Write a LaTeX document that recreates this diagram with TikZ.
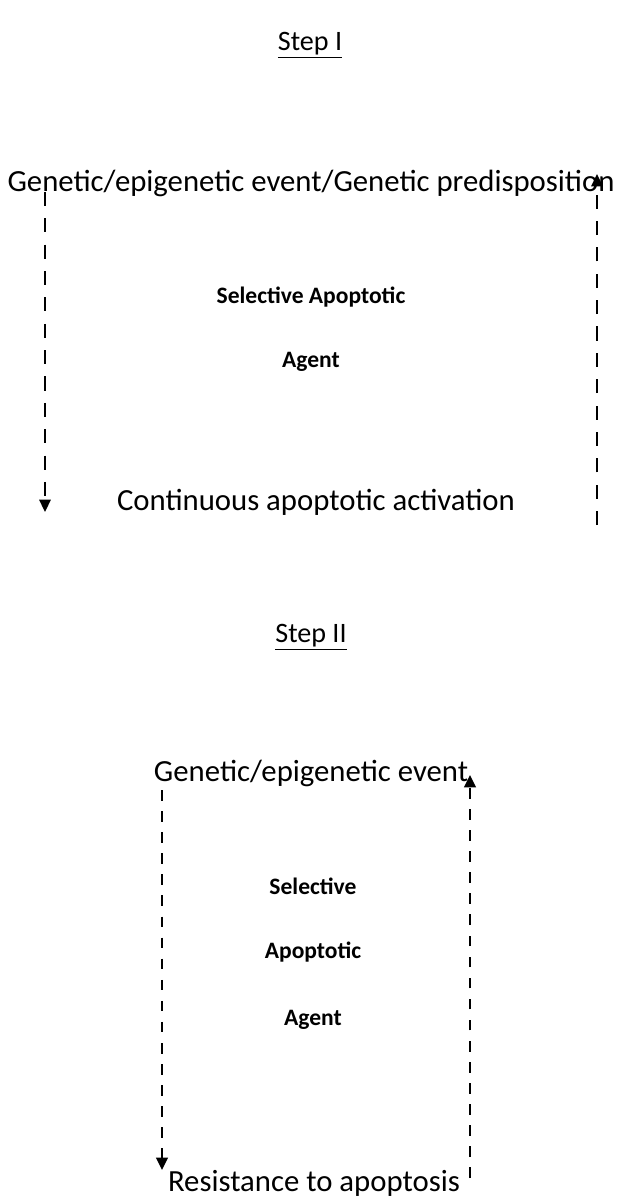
\documentclass[tikz,border=0pt]{standalone}
\usepackage{fontspec}
\setmainfont{Carlito}
\usepackage{tikz}
\usetikzlibrary{arrows.meta}

\tikzset{
  label text/.style={inner sep=0pt, font=\fontsize{17.5}{21}\selectfont},
  agent text/.style={inner sep=0pt, font=\fontsize{13.4}{16}\selectfont\bfseries},
  step title/.style={inner sep=0pt, font=\fontsize{16}{19}\selectfont},
  dash link/.style={black, line width=1pt, dash pattern=on 8pt off 7pt, -{Triangle[length=7pt,width=6.5pt]}},
  dash link thick/.style={dash link, line width=1.4pt, dash pattern=on 6pt off 6pt}
}

\begin{document}
\begin{tikzpicture}[x=0.02cm, y=-0.02cm]
\useasboundingbox (0,0) rectangle (620,1200);
% Step I
\node [step title] (stepA) at (310,45) {\underline{Step I}};
\node [label text] (causeA) at (311,183) {Genetic/epigenetic event/Genetic predisposition};
\node [agent text] (agentA1) at (311,297) {Selective Apoptotic};
\node [agent text] (agentA2) at (311,362) {Agent};
\node [label text] (effectA) at (316,502) {Continuous apoptotic activation};
\coordinate (downA top) at (45,192);
\coordinate (downA end) at (45,512);
\coordinate (upA start) at (597,525);
\coordinate (upA end) at (597,174);
\draw [dash link] (downA top)--(downA end);
\draw [dash link] (upA start)--(upA end);
% Step II
\node [step title] (stepB) at (311,637) {\underline{Step II}};
\node [label text] (causeB) at (311,773) {Genetic/epigenetic event};
\node [agent text] (agentB1) at (313,886) {Selective};
\node [agent text] (agentB2) at (313,952) {Apoptotic};
\node [agent text] (agentB3) at (313,1020) {Agent};
\node [label text] (effectB) at (314,1183) {Resistance to apoptosis};
\coordinate (downB top) at (162,790);
\coordinate (downB end) at (162,1170);
\coordinate (upB start) at (470,1178);
\coordinate (upB end) at (470,775);
\draw [dash link thick] (downB top)--(downB end);
\draw [dash link thick] (upB start)--(upB end);
\end{tikzpicture}
\end{document}
